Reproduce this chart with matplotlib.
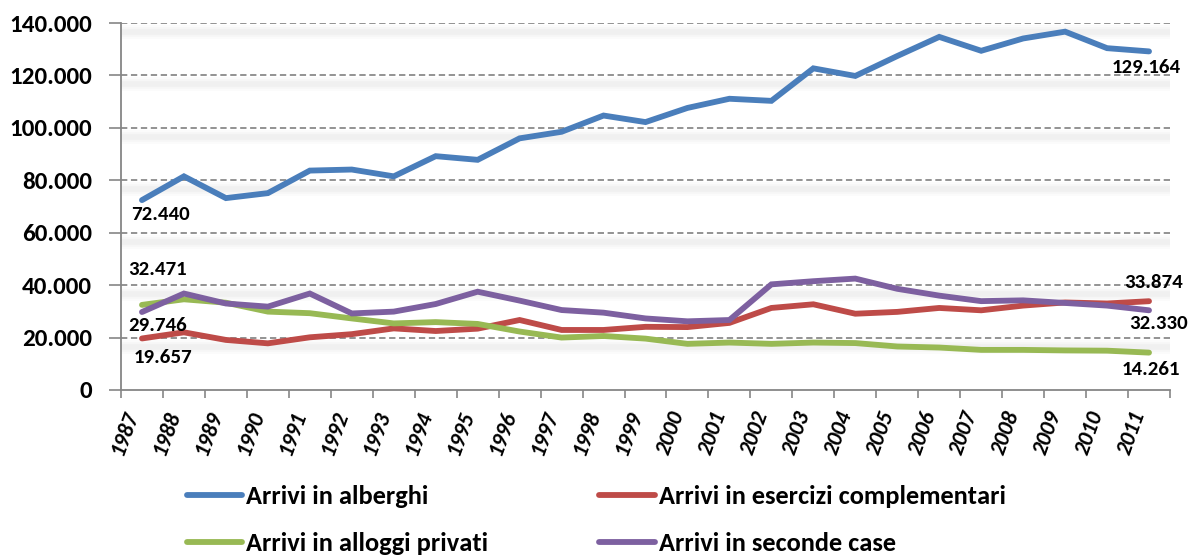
import matplotlib
matplotlib.use("Agg")
import matplotlib.pyplot as plt
from matplotlib.transforms import offset_copy, ScaledTranslation
import numpy as np

years = [str(y) for y in range(1987, 2012)]

alberghi = [72440, 81500, 73200, 75100, 83700, 84100, 81500, 89200, 87800, 96000,
            98500, 104700, 102200, 107600, 111100, 110300, 122700, 119800, 127400,
            134700, 129400, 134100, 136700, 130400, 129164]
complementari = [19657, 22000, 19100, 17800, 20100, 21300, 23500, 22500, 23400, 26700,
                 22900, 22900, 24100, 24000, 25600, 31300, 32700, 29100, 29800,
                 31300, 30400, 32200, 33400, 33000, 33874]
privati = [32471, 34600, 33300, 29900, 29300, 27300, 25400, 25900, 25200, 22300,
           20000, 20600, 19600, 17600, 18100, 17600, 18100, 17900, 16600,
           16200, 15300, 15300, 15100, 15000, 14261]
seconde = [29746, 36800, 33000, 31800, 36800, 29200, 29900, 32800, 37500, 34100,
           30500, 29500, 27300, 26200, 26700, 40300, 41500, 42500, 38600,
           36000, 33900, 34200, 33200, 32200, 30400]

series_names = ["Arrivi in alberghi", "Arrivi in esercizi complementari",
                "Arrivi in alloggi privati", "Arrivi in seconde case"]
colors = ["#4A7EBB", "#BE4B48", "#98B954", "#7D60A0"]

yticks = [0, 20000, 40000, 60000, 80000, 100000, 120000, 140000]
ytick_labels = ["0", "20.000", "40.000", "60.000", "80.000", "100.000", "120.000", "140.000"]

# data labels: (series index, text, dx px, dy px)
labels_first = [(0, "72.440", 18, -14), (2, "32.471", 16, 35), (3, "29.746", 16, -13), (1, "19.657", 21, -19)]
labels_last = [(0, "129.164", -3, -16), (1, "33.874", 5, 19), (3, "32.330", 10, -13), (2, "14.261", 2, -17)]

FONT = ['Carlito', 'DejaVu Sans']
plt.rcParams['font.family'] = FONT

W, H = 1197, 556
fig = plt.figure(figsize=(W / 100, H / 100), dpi=100)
ax = fig.add_axes([121 / W, 1 - 390 / H, (1170 - 121) / W, (390 - 23) / H])

x = np.arange(len(years))
data = [alberghi, complementari, privati, seconde]

# gridlines with soft shadow
for v in yticks[1:]:
    for lw, a in [(10, 0.03), (7, 0.045), (4, 0.06)]:
        tr = offset_copy(ax.get_yaxis_transform(), fig=fig, x=0, y=-9, units='dots')
        ax.plot([0, 1], [v, v], transform=tr, color="#909090", lw=lw, alpha=a,
                solid_capstyle='butt', zorder=0.5)
    ax.plot([0, 1], [v, v], transform=ax.get_yaxis_transform(), color="#8a8a8a",
            lw=1.3, ls=(0, (3.5, 2)), zorder=1)

lines = []
for d, c, n in zip(data, colors, series_names):
    ln, = ax.plot(x, d, color=c, lw=4.2, solid_capstyle='round', solid_joinstyle='miter',
                  label=n, zorder=3)
    lines.append(ln)

for si, txt, dx, dy in labels_first:
    ax.annotate(txt, (x[0], data[si][0]), xytext=(dx * 0.72, dy * 0.72),
                textcoords='offset points', ha='center', va='center',
                fontsize=15, fontweight='bold', color='black', zorder=5)
for si, txt, dx, dy in labels_last:
    ax.annotate(txt, (x[-1], data[si][-1]), xytext=(dx * 0.72, dy * 0.72),
                textcoords='offset points', ha='center', va='center',
                fontsize=15, fontweight='bold', color='black', zorder=5)

ax.set_xlim(-0.5, len(years) - 0.5)
ax.set_ylim(0, 140000)
ax.set_yticks(yticks)
ax.set_yticklabels(ytick_labels, fontsize=18, fontweight='bold')
ax.set_xticks(x)
ax.set_xticklabels(years, rotation=70, ha='right', va='top', fontsize=16,
                   fontweight='bold', fontstyle='italic')
shift = ScaledTranslation(9 / 100, 0, fig.dpi_scale_trans)
for lab in ax.get_xticklabels():
    lab.set_transform(lab.get_transform() + shift)
ax.set_xticks(np.arange(-0.5, len(years)), minor=True)
ax.tick_params(axis='x', which='major', length=0, pad=13)
ax.tick_params(axis='x', which='minor', length=6, color='#868686', width=1.2)
ax.tick_params(axis='y', length=9, color='#868686', width=1.2, pad=12)

for s in ['top', 'right']:
    ax.spines[s].set_visible(False)
for s in ['left', 'bottom']:
    ax.spines[s].set_color('#868686')
    ax.spines[s].set_linewidth(1.3)

order = [0, 2, 1, 3]
leg = fig.legend(handles=[lines[i] for i in order], labels=[series_names[i] for i in order],
                 ncol=2, loc='upper left', bbox_to_anchor=(187 / W, 1 - 485 / H),
                 frameon=False, borderpad=0, borderaxespad=0,
                 prop={'family': FONT, 'weight': 'bold', 'size': 19},
                 handlelength=2.1, handletextpad=0.15,
                 columnspacing=4.2, labelspacing=0.92)
for h in leg.legend_handles:
    h.set_linewidth(4.2)

fig.savefig("out.png", dpi=100)
